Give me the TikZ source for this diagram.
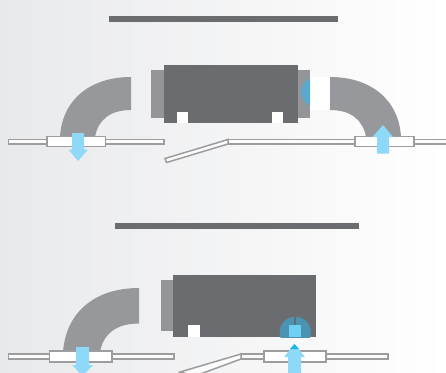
\documentclass[tikz,border=0pt]{standalone}
\usepackage{tikz}
\usepackage{xcolor}
\definecolor{unitdark}{HTML}{6B6C70}
\definecolor{sidegray}{HTML}{949598}
\definecolor{ductgray}{HTML}{97989B}
\definecolor{pipegray}{HTML}{9C9D9F}
\definecolor{airblue}{HTML}{8ED8F8}
\definecolor{fandark}{HTML}{4A93B3}
\definecolor{fanupper}{HTML}{5AA9CC}
\definecolor{fanlight}{HTML}{6FCFF5}
\definecolor{tipblue}{HTML}{1DB5EE}
\definecolor{bgleft}{HTML}{E8E9EB}
\definecolor{bgmid}{HTML}{F2F3F4}
\tikzset{
  bar/.style={fill=unitdark, draw=none},
  unit/.style={fill=unitdark, draw=none},
  side/.style={fill=sidegray, draw=none},
  notch/.style={fill=white, draw=none},
  duct/.style={fill=ductgray, draw=none},
  pipe/.style={fill=white!70!bgmid, draw=pipegray, line width=1.5pt},
  coupling/.style={fill=white, draw=pipegray, line width=1.6pt},
  airflow/.style={fill=airblue, draw=none},
}
\begin{document}
\begin{tikzpicture}[x=1pt, y=-1pt]
\useasboundingbox (0,0) rectangle (446,372);
\clip (0,0) rectangle (446,372);
\shade[left color=bgleft, middle color=bgmid, right color=white] (0,0) rectangle (446,372);

% Upper drawing
\fill[bar] (109,16) rectangle (338,22);
\fill[white] (310,77) rectangle (330,110);
\fill[side] (151,70) rectangle (164,118);
\fill[side] (297,70) rectangle (310,118);
\begin{scope}
  \clip (297,70) rectangle (310,118);
  \fill[fanupper] (315.5,92) circle (14.5);
\end{scope}
\fill[unit] (164,65) rectangle (298,123);
\fill[notch] (177,112) rectangle (188,123);
\fill[notch] (272,112) rectangle (283,123);
\fill[duct] (131,77) .. controls (90,77) and (62,100) .. (60,137) -- (95,137) .. controls (98,120) and (110,110) .. (131,110) -- cycle;
\fill[duct] (330,77) .. controls (371,77) and (399,100) .. (401,137) -- (366,137) .. controls (363,120) and (351,110) .. (330,110) -- cycle;
\draw[pipe] (8.5,139.5) rectangle (164,144);
\draw[pipe] (228,139.5) rectangle (355,144);
\draw[pipe] (414,139.5) rectangle (450,144);
\draw[pipe] (165,158.5) -- (228,139.5) -- (228,144) -- (166.5,162.5) -- cycle;
\draw[coupling] (47,136.5) rectangle (105.5,146.5);
\draw[coupling] (355,136.5) rectangle (414,146.5);
\fill[airflow] (72,133) -- (84,133) -- (84,149.5) -- (88,149.5) -- (78,161) -- (68.5,149.5) -- (72,149.5) -- cycle;
\fill[airflow] (377,153.5) -- (389,153.5) -- (389,137) -- (393,137) -- (383,125) -- (372.5,137) -- (377,137) -- cycle;

% Lower drawing
\fill[bar] (115,223) rectangle (359,229);
\fill[side] (161,280) rectangle (174,331);
\fill[unit] (173,275) rectangle (316,337);
\fill[notch] (188,325) rectangle (200,337);
\begin{scope}
  \clip (279,316) rectangle (312,337);
  \fill[fandark] (295.3,332.5) circle (15.7);
\end{scope}
\fill[unit] (293.5,316) rectangle (295.8,325);
\fill[fanlight] (289,325) rectangle (301,337);
\fill[duct] (139,288) .. controls (95,288) and (66,312) .. (63,352) -- (100,352) .. controls (103,335) and (115,323.5) .. (139,323.5) -- cycle;
\draw[pipe] (8.5,354) rectangle (174,359);
\draw[pipe] (241,354) rectangle (388,359);
\draw[pipe] (241,354) -- (180,372) -- (195,376) -- (241,359) -- cycle;
\draw[coupling] (49.5,351) rectangle (112,362);
\draw[coupling] (264,351) rectangle (326,362);
\fill[airflow] (76,347) -- (89,347) -- (89,365) -- (93,365) -- (82.5,376) -- (72,365) -- (76,365) -- cycle;
\fill[airflow] (288,376) -- (301,376) -- (301,357) -- (305,357) -- (294.5,344) -- (284,357) -- (288,357) -- cycle;
\fill[tipblue] (294.5,344) -- (299,349) -- (290,349) -- cycle;

\end{tikzpicture}
\end{document}
